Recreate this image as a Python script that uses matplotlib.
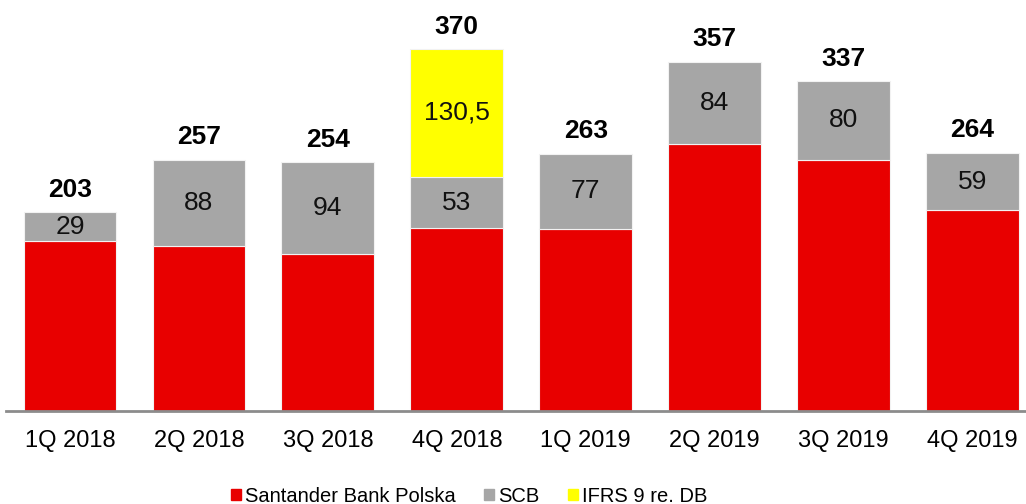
import matplotlib
matplotlib.use("Agg")
import matplotlib.pyplot as plt
from matplotlib.patches import Patch
import numpy as np

plt.rcParams["font.family"] = ["Liberation Sans", "DejaVu Sans"]

quarters = ["1Q 2018", "2Q 2018", "3Q 2018", "4Q 2018",
            "1Q 2019", "2Q 2019", "3Q 2019", "4Q 2019"]
sbp   = [174, 169, 160, 186.5, 186, 273, 257, 205]
scb   = [29, 88, 94, 53, 77, 84, 80, 59]
ifrs  = [0, 0, 0, 130.5, 0, 0, 0, 0]
total = [203, 257, 254, 370, 263, 357, 337, 264]
scb_labels  = ["29", "88", "94", "53", "77", "84", "80", "59"]
ifrs_labels = ["", "", "", "130,5", "", "", "", ""]

RED, GREY, YELLOW = "#E80000", "#A6A6A6", "#FFFF00"

W, H = 1026, 504
fig = plt.figure(figsize=(W / 100, H / 100), dpi=100)
# axes spans a bit past the right edge so the category spacing matches
ax = fig.add_axes([5.6 / W, (H - 411) / H, (1037 - 5.6) / W, 411 / H])

x = np.arange(len(quarters))
bw = 0.72
sbp = np.array(sbp, dtype=float)
scb = np.array(scb, dtype=float)
ifrs = np.array(ifrs, dtype=float)

edge = dict(edgecolor="#F2F2F2", linewidth=0.8, zorder=2)
ax.bar(x, sbp, bw, color=RED, **edge)
ax.bar(x, scb, bw, bottom=sbp, color=GREY, **edge)
ax.bar(x[ifrs > 0], ifrs[ifrs > 0], bw, bottom=(sbp + scb)[ifrs > 0],
       color=YELLOW, **edge)

fs_tick = 17
fs_val = 19
for i in x:
    ax.text(i, sbp[i] + scb[i] / 2, scb_labels[i], ha="center", va="center",
            fontsize=fs_val, color="#111111")
    if ifrs_labels[i]:
        ax.text(i, sbp[i] + scb[i] + ifrs[i] / 2, ifrs_labels[i], ha="center",
                va="center", fontsize=fs_val, color="#111111")
    ax.annotate(str(total[i]), (i, sbp[i] + scb[i] + ifrs[i]),
                xytext=(0, 11), textcoords="offset points", ha="center",
                va="baseline", fontsize=fs_val, fontweight="bold")

ax.set_xlim(-0.5, 7.5)
ax.set_ylim(0, 420)
ax.set_xticks(x)
ax.set_xticklabels(quarters, fontsize=fs_tick)
ax.tick_params(axis="x", length=0, pad=14)
ax.set_yticks([])
for s in ["top", "right", "left"]:
    ax.spines[s].set_visible(False)
ax.spines["bottom"].set_color("#8C8C8C")
ax.spines["bottom"].set_linewidth(2)

handles = [Patch(color=RED), Patch(color=GREY), Patch(color=YELLOW)]
fig.legend(handles, ["Santander Bank Polska", "SCB", "IFRS 9 re. DB"],
           loc="center", bbox_to_anchor=(469 / W, 1 - 496 / H), ncol=3,
           frameon=False, fontsize=14.5, handlelength=0.5, handleheight=0.5,
           handletextpad=0.2, columnspacing=1.4, borderaxespad=0)

fig.savefig("out.png", dpi=100)
